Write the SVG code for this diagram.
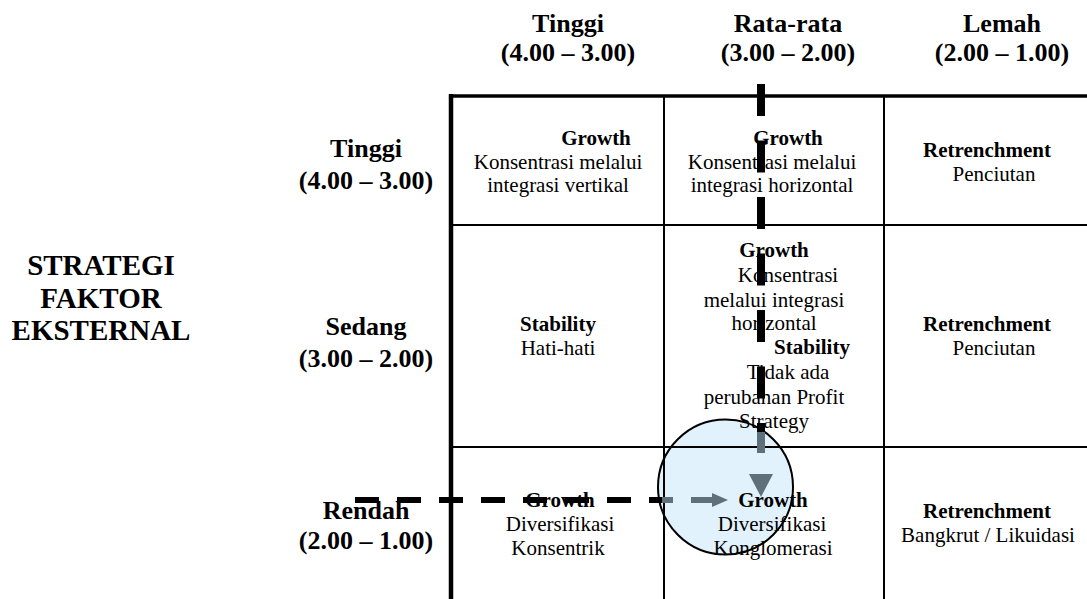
<svg xmlns="http://www.w3.org/2000/svg" width="1087" height="599" viewBox="0 0 1087 599">
<style>
.t{font-family:"Liberation Serif","Times New Roman",serif;font-size:21px;fill:#000;text-anchor:middle}
.b{font-weight:bold}
.h{font-family:"Liberation Serif","Times New Roman",serif;font-size:26px;font-weight:bold;fill:#000;text-anchor:middle}
.big{font-family:"Liberation Serif","Times New Roman",serif;font-size:29px;font-weight:bold;fill:#000;text-anchor:middle}
.thin{stroke:#000;stroke-width:2;fill:none}
.gray{fill:#5f707b}
</style>
<rect width="1087" height="599" fill="#fff"/>
<g id="highlight">
<circle cx="725.5" cy="487" r="67.5" fill="#e1f2fd" stroke="#000" stroke-width="2"/>
</g>
<g id="grid">
<line x1="451" y1="96" x2="1087" y2="96" stroke="#000" stroke-width="3.5"/>
<line x1="451" y1="94" x2="451" y2="599" stroke="#000" stroke-width="4.5"/>
<line class="thin" x1="451" y1="225" x2="1087" y2="225"/>
<line class="thin" x1="451" y1="447" x2="1087" y2="447"/>
<line class="thin" x1="664" y1="96" x2="664" y2="599"/>
<line class="thin" x1="884" y1="96" x2="884" y2="599"/>
</g>
<g id="left-title">
<text class="big" x="101" y="275">STRATEGI</text>
<text class="big" x="101" y="308">FAKTOR</text>
<text class="big" x="101" y="340">EKSTERNAL</text>
</g>
<g id="col-headers">
<text class="h" x="568" y="32">Tinggi</text>
<text class="h" x="568" y="61">(4.00 – 3.00)</text>
<text class="h" x="788" y="32">Rata-rata</text>
<text class="h" x="788" y="61">(3.00 – 2.00)</text>
<text class="h" x="1002" y="32">Lemah</text>
<text class="h" x="1002" y="61">(2.00 – 1.00)</text>
</g>
<g id="row-headers">
<text class="h" x="366" y="157">Tinggi</text>
<text class="h" x="366" y="189">(4.00 – 3.00)</text>
<text class="h" x="366" y="335">Sedang</text>
<text class="h" x="366" y="367">(3.00 – 2.00)</text>
<text class="h" x="366" y="519">Rendah</text>
<text class="h" x="366" y="549">(2.00 – 1.00)</text>
</g>
<g id="cell-r1c1">
<text class="t b" x="596" y="145">Growth</text>
<text class="t" x="558" y="169">Konsentrasi melalui</text>
<text class="t" x="558" y="192">integrasi vertikal</text>
</g>
<g id="cell-r1c2">
<text class="t b" x="788" y="145">Growth</text>
<text class="t" x="772" y="169">Konsentrasi melalui</text>
<text class="t" x="772" y="192">integrasi horizontal</text>
</g>
<g id="cell-r1c3">
<text class="t b" x="987" y="157">Retrenchment</text>
<text class="t" x="994" y="181">Penciutan</text>
</g>
<g id="cell-r2c1">
<text class="t b" x="558" y="331">Stability</text>
<text class="t" x="558" y="355">Hati-hati</text>
</g>
<g id="cell-r2c2">
<text class="t b" x="774" y="257">Growth</text>
<text class="t" x="788" y="282">Konsentrasi</text>
<text class="t" x="774" y="307">melalui integrasi</text>
<text class="t" x="774" y="330">horizontal</text>
<text class="t b" x="812" y="354">Stability</text>
<text class="t" x="788" y="379">Tidak ada</text>
<text class="t" x="774" y="404">perubahan Profit</text>
<text class="t" x="774" y="428">Strategy</text>
</g>
<g id="cell-r2c3">
<text class="t b" x="987" y="331">Retrenchment</text>
<text class="t" x="994" y="355">Penciutan</text>
</g>
<g id="cell-r3c1">
<text class="t b" x="560" y="507">Growth</text>
<text class="t" x="560" y="531">Diversifikasi</text>
<text class="t" x="558" y="555">Konsentrik</text>
</g>
<g id="cell-r3c2">
<text class="t b" x="773" y="507">Growth</text>
<text class="t" x="772" y="531">Diversifikasi</text>
<text class="t" x="773" y="555">Konglomerasi</text>
</g>
<g id="cell-r3c3">
<text class="t b" x="987" y="518">Retrenchment</text>
<text class="t" x="988" y="542">Bangkrut / Likuidasi</text>
</g>
<g id="connectors">
<line x1="761" y1="84" x2="761" y2="432" stroke="#000" stroke-width="8" stroke-dasharray="32 24.5"/>
<rect class="gray" x="757" y="432" width="8" height="21"/>
<polygon class="gray" points="749,474 773,474 761,497"/>
<line x1="355" y1="500" x2="662" y2="500" stroke="#000" stroke-width="6" stroke-dasharray="24 18"/>
<rect class="gray" x="662" y="497" width="11" height="6"/>
<rect class="gray" x="691" y="497" width="21" height="6"/>
<polygon class="gray" points="712,493 728,500 712,507"/>
</g>
</svg>
